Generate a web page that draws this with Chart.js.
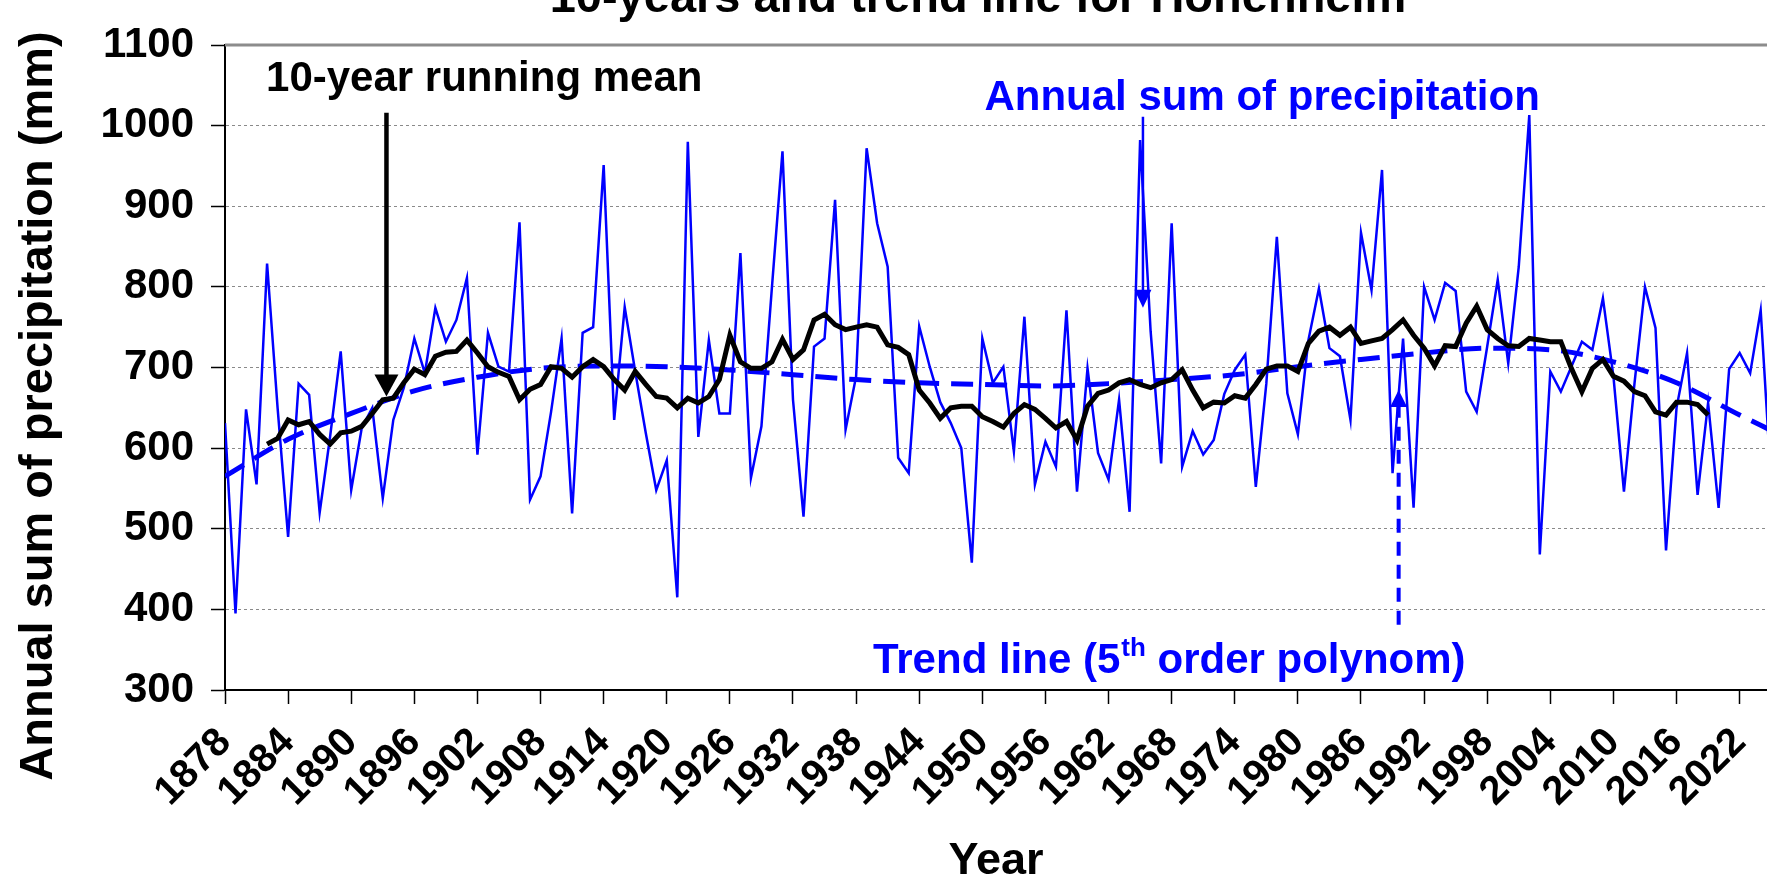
<!DOCTYPE html>
<html>
<head>
<meta charset="utf-8">
<script src="https://cdn.jsdelivr.net/npm/chart.js@4.4.1/dist/chart.umd.min.js"></script>
<style>
html, body { margin: 0; padding: 0; background: #fff; }
#wrap { width: 1767px; height: 884px; }
</style>
</head>
<body>
<div id="wrap"><canvas id="rain-chart" width="1767" height="884"></canvas></div>
<script>
var years = [1878, 1879, 1880, 1881, 1882, 1883, 1884, 1885, 1886, 1887,
	1888, 1889, 1890, 1891, 1892, 1893, 1894, 1895, 1896, 1897,
	1898, 1899, 1900, 1901, 1902, 1903, 1904, 1905, 1906, 1907,
	1908, 1909, 1910, 1911, 1912, 1913, 1914, 1915, 1916, 1917,
	1918, 1919, 1920, 1921, 1922, 1923, 1924, 1925, 1926, 1927,
	1928, 1929, 1930, 1931, 1932, 1933, 1934, 1935, 1936, 1937,
	1938, 1939, 1940, 1941, 1942, 1943, 1944, 1945, 1946, 1947,
	1948, 1949, 1950, 1951, 1952, 1953, 1954, 1955, 1956, 1957,
	1958, 1959, 1960, 1961, 1962, 1963, 1964, 1965, 1966, 1967,
	1968, 1969, 1970, 1971, 1972, 1973, 1974, 1975, 1976, 1977,
	1978, 1979, 1980, 1981, 1982, 1983, 1984, 1985, 1986, 1987,
	1988, 1989, 1990, 1991, 1992, 1993, 1994, 1995, 1996, 1997,
	1998, 1999, 2000, 2001, 2002, 2003, 2004, 2005, 2006, 2007,
	2008, 2009, 2010, 2011, 2012, 2013, 2014, 2015, 2016, 2017,
	2018, 2019, 2020, 2021, 2022, 2023, 2024, 2025]

// annual sum of precipitation (mm)
var precip = [631, 395, 648, 555, 829, 650, 490, 680, 666, 520,
	615, 720, 548, 625, 650, 538, 635, 675, 736, 693,
	774, 732, 759, 811, 592, 743, 701, 695, 880, 536,
	565, 645, 736, 519, 743, 750, 951, 635, 775, 695,
	619, 548, 585, 415, 980, 614, 734, 643, 643, 842,
	563, 627, 800, 968, 660, 515, 726, 736, 908, 623,
	689, 972, 879, 825, 588, 569, 751, 701, 657, 631,
	600, 458, 736, 681, 701, 596, 763, 555, 608, 577,
	771, 546, 699, 594, 561, 660, 521, 982, 745, 581,
	879, 577, 621, 592, 610, 667, 697, 716, 552, 680,
	862, 668, 617, 734, 798, 724, 714, 635, 867, 796,
	945, 569, 736, 526, 800, 759, 805, 795, 670, 645,
	726, 809, 705, 825, 1013, 468, 695, 670, 701, 732,
	722, 786, 689, 546, 680, 800, 749, 473, 650, 718,
	542, 656, 526, 698, 718, 693, 771, 555]

// 10-year running mean, 1882 to 2019
var meanYears = [1882, 1883, 1884, 1885, 1886, 1887, 1888, 1889, 1890, 1891,
	1892, 1893, 1894, 1895, 1896, 1897, 1898, 1899, 1900, 1901,
	1902, 1903, 1904, 1905, 1906, 1907, 1908, 1909, 1910, 1911,
	1912, 1913, 1914, 1915, 1916, 1917, 1918, 1919, 1920, 1921,
	1922, 1923, 1924, 1925, 1926, 1927, 1928, 1929, 1930, 1931,
	1932, 1933, 1934, 1935, 1936, 1937, 1938, 1939, 1940, 1941,
	1942, 1943, 1944, 1945, 1946, 1947, 1948, 1949, 1950, 1951,
	1952, 1953, 1954, 1955, 1956, 1957, 1958, 1959, 1960, 1961,
	1962, 1963, 1964, 1965, 1966, 1967, 1968, 1969, 1970, 1971,
	1972, 1973, 1974, 1975, 1976, 1977, 1978, 1979, 1980, 1981,
	1982, 1983, 1984, 1985, 1986, 1987, 1988, 1989, 1990, 1991,
	1992, 1993, 1994, 1995, 1996, 1997, 1998, 1999, 2000, 2001,
	2002, 2003, 2004, 2005, 2006, 2007, 2008, 2009, 2010, 2011,
	2012, 2013, 2014, 2015, 2016, 2017, 2018, 2019]
var meanValues = [605, 612, 635, 629, 633, 617, 605, 619, 621, 627,
	643, 660, 662, 681, 698, 691, 714, 719, 720, 734,
	718, 701, 694, 689, 660, 673, 679, 701, 699, 688,
	701, 710, 701, 685, 672, 695, 679, 664, 662, 650,
	662, 656, 664, 685, 740, 707, 699, 699, 707, 735,
	710, 722, 759, 766, 753, 747, 750, 753, 750, 728,
	725, 716, 672, 656, 637, 650, 652, 652, 639, 633,
	626, 643, 654, 648, 637, 625, 633, 610, 652, 668,
	672, 681, 685, 679, 675, 681, 685, 697, 672, 650,
	657, 656, 665, 662, 679, 698, 702, 702, 695, 730,
	745, 750, 740, 750, 730, 733, 736, 747, 759, 740,
	724, 702, 727, 726, 755, 776, 747, 736, 727, 726,
	736, 734, 732, 732, 699, 670, 699, 710, 689, 683,
	670, 665, 645, 641, 657, 657, 654, 641]

// trend line (5th order polynom)
var trendYears = [1878, 1884, 1890, 1896, 1902, 1908, 1914, 1920, 1926, 1932,
	1938, 1944, 1950, 1956, 1962, 1968, 1974, 1980, 1986, 1992,
	1998, 2004, 2010, 2016, 2022, 2025]
var trendValues = [565, 611, 643, 671, 688, 699, 702, 701, 697, 691,
	685, 681, 679, 677, 680, 685, 691, 701, 710, 718,
	724, 722, 707, 681, 641, 622]

var yearTicks = [1878, 1884, 1890, 1896, 1902, 1908, 1914, 1920, 1926, 1932,
	1938, 1944, 1950, 1956, 1962, 1968, 1974, 1980, 1986, 1992,
	1998, 2004, 2010, 2016, 2022]
var valueTicks = [300, 400, 500, 600, 700, 800, 900, 1000, 1100]

var FONT = '"Liberation Sans", Arial, Helvetica, sans-serif'
var BLUE = '#0000ff'
Chart.defaults.font.family = FONT

function pairs(xs, ys) {
	var out = []
	for (var i = 0; i < xs.length; i++) out.push({x: xs[i], y: ys[i]})
	return out
}

function label(v) { return String(v) }

// vertical arrow from (x, yFrom) with the tip at (x, yTip), pixels
function arrow(ctx, x, yFrom, yTip, width, color, headW, headH, dash) {
	var dir = yTip > yFrom ? 1 : -1
	ctx.save()
	ctx.strokeStyle = color
	ctx.fillStyle = color
	ctx.lineWidth = width
	ctx.setLineDash(dash || [])
	ctx.beginPath()
	ctx.moveTo(x, yFrom)
	ctx.lineTo(x, yTip - dir * headH * 0.6)
	ctx.stroke()
	ctx.setLineDash([])
	ctx.beginPath()
	ctx.moveTo(x, yTip)
	ctx.lineTo(x - headW / 2, yTip - dir * headH)
	ctx.lineTo(x + headW / 2, yTip - dir * headH)
	ctx.closePath()
	ctx.fill()
	ctx.restore()
}

var notes = {
	id: 'notes',
	beforeDatasetsDraw: function(chart) {
		var ctx = chart.ctx, a = chart.chartArea
		ctx.save()
		ctx.strokeStyle = '#8c8c8c'
		ctx.lineWidth = 3
		ctx.beginPath()
		ctx.moveTo(a.left, a.top)
		ctx.lineTo(a.right, a.top)
		ctx.stroke()
		ctx.restore()
	},
	afterDraw: function(chart) {
		var ctx = chart.ctx
		var sx = chart.scales.x, sy = chart.scales.y
		var X = function(v) { return sx.getPixelForValue(v) }
		var Y = function(v) { return sy.getPixelForValue(v) }

		// title, cut at the top edge as in the source picture
		ctx.save()
		ctx.fillStyle = '#000'
		ctx.font = 'bold 47px ' + FONT
		ctx.textAlign = 'center'
		ctx.textBaseline = 'alphabetic'
		ctx.fillText('10-years and trend line for Hohenheim', 978, 12)

		// y axis title
		ctx.translate(39, 406)
		ctx.rotate(-Math.PI / 2)
		ctx.textBaseline = 'middle'
		ctx.fillText('Annual sum of precipitation (mm)', 0, 0)
		ctx.restore()

		ctx.save()
		ctx.textAlign = 'left'
		ctx.textBaseline = 'alphabetic'
		ctx.font = 'bold 42px ' + FONT
		ctx.fillStyle = '#000'
		ctx.fillText('10-year running mean', X(1881.9), Y(1043))
		ctx.fillStyle = BLUE
		ctx.fillText('Annual sum of precipitation', X(1950.2), Y(1019))

		var tx = X(1939.6), ty = Y(321)
		var part1 = 'Trend line (5'
		ctx.fillText(part1, tx, ty)
		tx += ctx.measureText(part1).width
		ctx.font = 'bold 26px ' + FONT
		ctx.fillText('th', tx + 1, ty - 17)
		tx += ctx.measureText('th').width + 1
		ctx.font = 'bold 42px ' + FONT
		ctx.fillText(' order polynom)', tx, ty)
		ctx.restore()

		arrow(ctx, X(1893.35), Y(1016), Y(664), 4.5, '#000', 24, 22)
		arrow(ctx, X(1965.27), Y(1011), Y(774), 2.5, BLUE, 17, 18)
		arrow(ctx, X(1989.58), Y(381), Y(672), 4, BLUE, 17, 17, [14, 9])
	}
}

var ctx = document.getElementById('rain-chart').getContext('2d')
var rainChart = new Chart(ctx, {
	type: 'line',
	data: {
		datasets: [{
			label: 'Annual sum of precipitation',
			data: pairs(years, precip),
			borderColor: BLUE,
			borderWidth: 2.5,
			pointRadius: 0,
			tension: 0,
			order: 3
		}, {
			label: '10-year running mean',
			data: pairs(meanYears, meanValues),
			borderColor: '#000',
			borderWidth: 5,
			pointRadius: 0,
			tension: 0,
			order: 1
		}, {
			label: 'Trend line (5th order polynom)',
			data: pairs(trendYears, trendValues),
			borderColor: BLUE,
			borderWidth: 5,
			borderDash: [22, 12],
			pointRadius: 0,
			cubicInterpolationMode: 'monotone',
			order: 2
		}]
	},
	options: {
		responsive: false,
		animation: false,
		devicePixelRatio: 1,
		layout: {padding: {top: 45, right: 0, bottom: 0, left: 0}},
		plugins: {legend: {display: false}, tooltip: {enabled: false}},
		scales: {
			x: {
				type: 'linear',
				min: 1878,
				max: 2024.6,
				afterBuildTicks: function(scale) {
					scale.ticks = yearTicks.map(function(v) { return {value: v} })
				},
				afterFit: function(scale) {
					scale.height = 194
					scale.paddingLeft = 0
					scale.paddingRight = 0
				},
				grid: {drawOnChartArea: false, tickLength: 14, tickColor: '#000', tickWidth: 1.5},
				border: {color: '#000', width: 2},
				ticks: {
					color: '#000',
					autoSkip: false,
					minRotation: 45,
					maxRotation: 45,
					padding: 15,
					font: {size: 40, weight: 'bold'},
					callback: label
				},
				title: {
					display: true,
					text: 'Year',
					color: '#000',
					font: {size: 45, weight: 'bold', lineHeight: 1},
					padding: {top: 0, bottom: 0}
				}
			},
			y: {
				min: 300,
				max: 1100,
				afterBuildTicks: function(scale) {
					scale.ticks = valueTicks.map(function(v) { return {value: v} })
				},
				afterFit: function(scale) {
					scale.width = 225
					scale.paddingTop = 0
					scale.paddingBottom = 0
				},
				grid: {
					color: function(c) {
						var v = c.tick ? c.tick.value : null
						return (v === 300 || v === 1100) ? 'rgba(0,0,0,0)' : '#8a8a8a'
					},
					lineWidth: 1,
					tickLength: 14,
					tickColor: '#000',
					tickWidth: 1.5
				},
				border: {color: '#000', width: 2, dash: [3, 3]},
				ticks: {
					color: '#000',
					padding: 17,
					font: {size: 42, weight: 'bold'},
					callback: label
				}
			}
		}
	},
	plugins: [notes]
})
</script>
</body>
</html>
